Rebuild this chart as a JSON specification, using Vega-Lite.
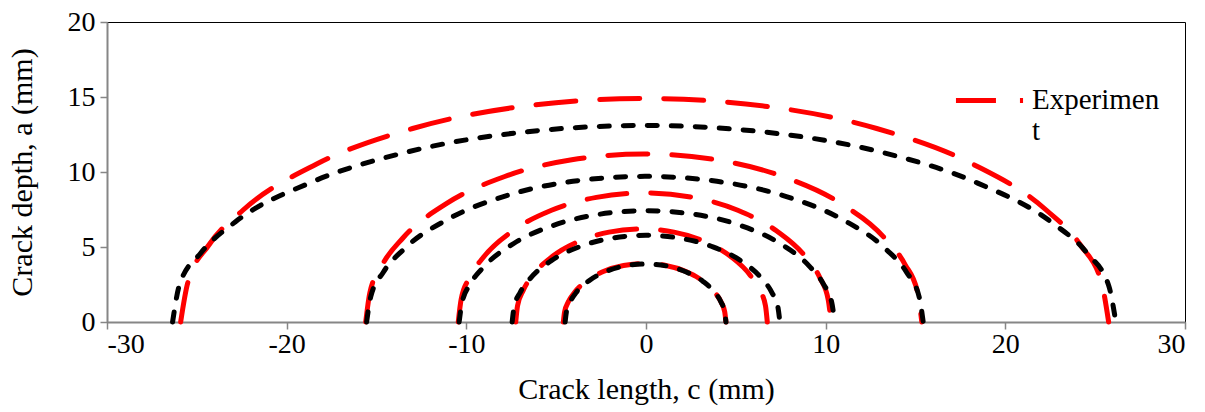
{
  "$schema": "https://vega.github.io/schema/vega-lite/v6.json",
  "width": 1078,
  "height": 300,
  "autosize": {"type": "none"},
  "padding": {"left": 107, "top": 22, "right": 20, "bottom": 90},
  "background": "white",
  "config": {
    "font": "Liberation Serif",
    "view": {"stroke": "black", "strokeWidth": 1},
    "axis": {
      "grid": false,
      "domainColor": "#868686",
      "domainWidth": 2,
      "tickColor": "#868686",
      "tickWidth": 1.5,
      "tickSize": 7,
      "labelFont": "Liberation Serif",
      "labelFontSize": 28,
      "labelColor": "black",
      "titleFont": "Liberation Serif",
      "titleFontSize": 30,
      "titleFontWeight": "normal",
      "titleColor": "black"
    }
  },
  "data": {
    "values": [
      {"series": "Experiment", "crack": 1, "c": -25.9, "a": 0},
      {"series": "Experiment", "crack": 1, "c": -25.51, "a": 2.59},
      {"series": "Experiment", "crack": 1, "c": -24.35, "a": 5.1},
      {"series": "Experiment", "crack": 1, "c": -22.44, "a": 7.45},
      {"series": "Experiment", "crack": 1, "c": -18.33, "a": 10.53},
      {"series": "Experiment", "crack": 1, "c": -12.99, "a": 12.9},
      {"series": "Experiment", "crack": 1, "c": -6.76, "a": 14.39},
      {"series": "Experiment", "crack": 1, "c": -0.075, "a": 14.9},
      {"series": "Experiment", "crack": 1, "c": 6.61, "a": 14.39},
      {"series": "Experiment", "crack": 1, "c": 12.84, "a": 12.9},
      {"series": "Experiment", "crack": 1, "c": 18.18, "a": 10.53},
      {"series": "Experiment", "crack": 1, "c": 22.29, "a": 7.45},
      {"series": "Experiment", "crack": 1, "c": 24.2, "a": 5.1},
      {"series": "Experiment", "crack": 1, "c": 25.36, "a": 2.59},
      {"series": "Experiment", "crack": 1, "c": 25.75, "a": 0},

      {"series": "Experiment", "crack": 2, "c": -15.6, "a": 0},
      {"series": "Experiment", "crack": 2, "c": -15.37, "a": 1.95},
      {"series": "Experiment", "crack": 2, "c": -14.67, "a": 3.83},
      {"series": "Experiment", "crack": 2, "c": -13.53, "a": 5.6},
      {"series": "Experiment", "crack": 2, "c": -11.07, "a": 7.92},
      {"series": "Experiment", "crack": 2, "c": -7.86, "a": 9.7},
      {"series": "Experiment", "crack": 2, "c": -4.13, "a": 10.82},
      {"series": "Experiment", "crack": 2, "c": -0.125, "a": 11.2},
      {"series": "Experiment", "crack": 2, "c": 3.88, "a": 10.82},
      {"series": "Experiment", "crack": 2, "c": 7.61, "a": 9.7},
      {"series": "Experiment", "crack": 2, "c": 10.82, "a": 7.92},
      {"series": "Experiment", "crack": 2, "c": 13.28, "a": 5.6},
      {"series": "Experiment", "crack": 2, "c": 14.42, "a": 3.83},
      {"series": "Experiment", "crack": 2, "c": 15.12, "a": 1.95},
      {"series": "Experiment", "crack": 2, "c": 15.35, "a": 0},

      {"series": "Experiment", "crack": 3, "c": -10.45, "a": 0},
      {"series": "Experiment", "crack": 3, "c": -10.29, "a": 1.5},
      {"series": "Experiment", "crack": 3, "c": -9.83, "a": 2.94},
      {"series": "Experiment", "crack": 3, "c": -9.06, "a": 4.3},
      {"series": "Experiment", "crack": 3, "c": -7.41, "a": 6.08},
      {"series": "Experiment", "crack": 3, "c": -5.26, "a": 7.45},
      {"series": "Experiment", "crack": 3, "c": -2.76, "a": 8.31},
      {"series": "Experiment", "crack": 3, "c": -0.075, "a": 8.6},
      {"series": "Experiment", "crack": 3, "c": 2.61, "a": 8.31},
      {"series": "Experiment", "crack": 3, "c": 5.11, "a": 7.45},
      {"series": "Experiment", "crack": 3, "c": 7.26, "a": 6.08},
      {"series": "Experiment", "crack": 3, "c": 8.91, "a": 4.3},
      {"series": "Experiment", "crack": 3, "c": 9.68, "a": 2.94},
      {"series": "Experiment", "crack": 3, "c": 10.14, "a": 1.5},
      {"series": "Experiment", "crack": 3, "c": 10.3, "a": 0},

      {"series": "Experiment", "crack": 4, "c": -7.25, "a": 0},
      {"series": "Experiment", "crack": 4, "c": -7.15, "a": 1.08},
      {"series": "Experiment", "crack": 4, "c": -6.83, "a": 2.12},
      {"series": "Experiment", "crack": 4, "c": -6.31, "a": 3.1},
      {"series": "Experiment", "crack": 4, "c": -5.2, "a": 4.38},
      {"series": "Experiment", "crack": 4, "c": -3.75, "a": 5.37},
      {"series": "Experiment", "crack": 4, "c": -2.06, "a": 5.99},
      {"series": "Experiment", "crack": 4, "c": -0.25, "a": 6.2},
      {"series": "Experiment", "crack": 4, "c": 1.56, "a": 5.99},
      {"series": "Experiment", "crack": 4, "c": 3.25, "a": 5.37},
      {"series": "Experiment", "crack": 4, "c": 4.7, "a": 4.38},
      {"series": "Experiment", "crack": 4, "c": 5.81, "a": 3.1},
      {"series": "Experiment", "crack": 4, "c": 6.33, "a": 2.12},
      {"series": "Experiment", "crack": 4, "c": 6.65, "a": 1.08},
      {"series": "Experiment", "crack": 4, "c": 6.75, "a": 0},

      {"series": "Experiment", "crack": 5, "c": -4.6, "a": 0},
      {"series": "Experiment", "crack": 5, "c": -4.53, "a": 0.68},
      {"series": "Experiment", "crack": 5, "c": -4.33, "a": 1.33},
      {"series": "Experiment", "crack": 5, "c": -3.99, "a": 1.95},
      {"series": "Experiment", "crack": 5, "c": -3.27, "a": 2.76},
      {"series": "Experiment", "crack": 5, "c": -2.34, "a": 3.38},
      {"series": "Experiment", "crack": 5, "c": -1.25, "a": 3.77},
      {"series": "Experiment", "crack": 5, "c": -0.075, "a": 3.9},
      {"series": "Experiment", "crack": 5, "c": 1.1, "a": 3.77},
      {"series": "Experiment", "crack": 5, "c": 2.19, "a": 3.38},
      {"series": "Experiment", "crack": 5, "c": 3.12, "a": 2.76},
      {"series": "Experiment", "crack": 5, "c": 3.84, "a": 1.95},
      {"series": "Experiment", "crack": 5, "c": 4.18, "a": 1.33},
      {"series": "Experiment", "crack": 5, "c": 4.38, "a": 0.68},
      {"series": "Experiment", "crack": 5, "c": 4.45, "a": 0},

      {"series": "Model", "crack": 1, "c": -26.35, "a": 0},
      {"series": "Model", "crack": 1, "c": -25.96, "a": 2.5},
      {"series": "Model", "crack": 1, "c": -24.78, "a": 4.6},
      {"series": "Model", "crack": 1, "c": -22.83, "a": 6.7},
      {"series": "Model", "crack": 1, "c": -18.66, "a": 9.3},
      {"series": "Model", "crack": 1, "c": -13.23, "a": 11.35},
      {"series": "Model", "crack": 1, "c": -6.9, "a": 12.65},
      {"series": "Model", "crack": 1, "c": -0.1, "a": 13.1},
      {"series": "Model", "crack": 1, "c": 6.7, "a": 12.65},
      {"series": "Model", "crack": 1, "c": 13.03, "a": 11.34},
      {"series": "Model", "crack": 1, "c": 18.46, "a": 9.26},
      {"series": "Model", "crack": 1, "c": 22.63, "a": 6.6},
      {"series": "Model", "crack": 1, "c": 24.58, "a": 4.55},
      {"series": "Model", "crack": 1, "c": 25.76, "a": 2.4},
      {"series": "Model", "crack": 1, "c": 26.15, "a": 0},

      {"series": "Model", "crack": 2, "c": -15.55, "a": 0},
      {"series": "Model", "crack": 2, "c": -15.32, "a": 1.69},
      {"series": "Model", "crack": 2, "c": -14.62, "a": 3.32},
      {"series": "Model", "crack": 2, "c": -13.47, "a": 4.86},
      {"series": "Model", "crack": 2, "c": -11.01, "a": 6.86},
      {"series": "Model", "crack": 2, "c": -7.8, "a": 8.41},
      {"series": "Model", "crack": 2, "c": -4.07, "a": 9.38},
      {"series": "Model", "crack": 2, "c": -0.06, "a": 9.71},
      {"series": "Model", "crack": 2, "c": 3.95, "a": 9.38},
      {"series": "Model", "crack": 2, "c": 7.68, "a": 8.41},
      {"series": "Model", "crack": 2, "c": 10.89, "a": 6.86},
      {"series": "Model", "crack": 2, "c": 13.35, "a": 4.86},
      {"series": "Model", "crack": 2, "c": 14.5, "a": 3.32},
      {"series": "Model", "crack": 2, "c": 15.2, "a": 1.69},
      {"series": "Model", "crack": 2, "c": 15.43, "a": 0},

      {"series": "Model", "crack": 3, "c": -10.4, "a": 0},
      {"series": "Model", "crack": 3, "c": -10.24, "a": 1.29},
      {"series": "Model", "crack": 3, "c": -9.77, "a": 2.54},
      {"series": "Model", "crack": 3, "c": -9.0, "a": 3.71},
      {"series": "Model", "crack": 3, "c": -7.34, "a": 5.25},
      {"series": "Model", "crack": 3, "c": -5.18, "a": 6.43},
      {"series": "Model", "crack": 3, "c": -2.66, "a": 7.17},
      {"series": "Model", "crack": 3, "c": 0.05, "a": 7.42},
      {"series": "Model", "crack": 3, "c": 2.76, "a": 7.17},
      {"series": "Model", "crack": 3, "c": 5.28, "a": 6.43},
      {"series": "Model", "crack": 3, "c": 7.44, "a": 5.25},
      {"series": "Model", "crack": 3, "c": 9.1, "a": 3.71},
      {"series": "Model", "crack": 3, "c": 9.87, "a": 2.54},
      {"series": "Model", "crack": 3, "c": 10.34, "a": 1.29},
      {"series": "Model", "crack": 3, "c": 10.5, "a": 0},

      {"series": "Model", "crack": 4, "c": -7.45, "a": 0},
      {"series": "Model", "crack": 4, "c": -7.34, "a": 1.01},
      {"series": "Model", "crack": 4, "c": -7.0, "a": 1.98},
      {"series": "Model", "crack": 4, "c": -6.45, "a": 2.89},
      {"series": "Model", "crack": 4, "c": -5.27, "a": 4.09},
      {"series": "Model", "crack": 4, "c": -3.725, "a": 5.01},
      {"series": "Model", "crack": 4, "c": -1.93, "a": 5.58},
      {"series": "Model", "crack": 4, "c": 0, "a": 5.78},
      {"series": "Model", "crack": 4, "c": 1.93, "a": 5.58},
      {"series": "Model", "crack": 4, "c": 3.725, "a": 5.01},
      {"series": "Model", "crack": 4, "c": 5.27, "a": 4.09},
      {"series": "Model", "crack": 4, "c": 6.45, "a": 2.89},
      {"series": "Model", "crack": 4, "c": 7.0, "a": 1.98},
      {"series": "Model", "crack": 4, "c": 7.34, "a": 1.01},
      {"series": "Model", "crack": 4, "c": 7.45, "a": 0},

      {"series": "Model", "crack": 5, "c": -4.5, "a": 0},
      {"series": "Model", "crack": 5, "c": -4.43, "a": 0.67},
      {"series": "Model", "crack": 5, "c": -4.23, "a": 1.32},
      {"series": "Model", "crack": 5, "c": -3.9, "a": 1.94},
      {"series": "Model", "crack": 5, "c": -3.19, "a": 2.74},
      {"series": "Model", "crack": 5, "c": -2.26, "a": 3.35},
      {"series": "Model", "crack": 5, "c": -1.18, "a": 3.74},
      {"series": "Model", "crack": 5, "c": -0.025, "a": 3.87},
      {"series": "Model", "crack": 5, "c": 1.13, "a": 3.74},
      {"series": "Model", "crack": 5, "c": 2.21, "a": 3.35},
      {"series": "Model", "crack": 5, "c": 3.14, "a": 2.74},
      {"series": "Model", "crack": 5, "c": 3.85, "a": 1.94},
      {"series": "Model", "crack": 5, "c": 4.18, "a": 1.32},
      {"series": "Model", "crack": 5, "c": 4.38, "a": 0.67},
      {"series": "Model", "crack": 5, "c": 4.45, "a": 0}
    ]
  },
  "encoding": {
    "x": {
      "field": "c",
      "type": "quantitative",
      "scale": {"domain": [-30, 30], "nice": false, "zero": false},
      "axis": {
        "values": [-30, -20, -10, 0, 10, 20, 30],
        "title": "Crack length, c (mm)",
        "labelExpr": "datum.value < 0 ? '-' + abs(datum.value) : '' + datum.value",
        "labelPadding": 1,
        "titlePadding": 16
      }
    },
    "y": {
      "field": "a",
      "type": "quantitative",
      "scale": {"domain": [0, 20], "nice": false},
      "axis": {"values": [0, 5, 10, 15, 20], "title": "Crack depth, a (mm)", "labelPadding": 5, "titlePadding": 30}
    },
    "detail": {"field": "crack", "type": "nominal"}
  },
  "layer": [
    {
      "transform": [{"filter": "datum.series == 'Experiment'"}],
      "mark": {"type": "line", "interpolate": "monotone", "strokeWidth": 5, "strokeDash": [40, 24], "strokeCap": "round"},
      "encoding": {
        "color": {
          "field": "series",
          "type": "nominal",
          "scale": {"domain": ["Experiment"], "range": ["#ff0000"]},
          "legend": {
            "title": null,
            "orient": "none",
            "legendX": 846,
            "legendY": 42,
            "padding": 0,
            "symbolType": "stroke",
            "symbolSize": 4500,
            "symbolStrokeWidth": 5,
            "symbolDash": [40, 24],
            "symbolOffset": 0,
            "labelOffset": 6,
            "labelFont": "Liberation Serif",
            "labelFontSize": 29,
            "labelColor": "black",
            "labelBaseline": "alphabetic",
            "labelLimit": 300,
            "labelExpr": "['Experimen', 't']",
            "encode": {"labels": {"update": {"dy": {"value": 8}}}}
          }
        }
      }
    },
    {
      "transform": [{"filter": "datum.series == 'Model'"}],
      "mark": {"type": "line", "interpolate": "monotone", "color": "black", "strokeWidth": 5, "strokeDash": [10, 14], "strokeCap": "round"}
    }
  ]
}
